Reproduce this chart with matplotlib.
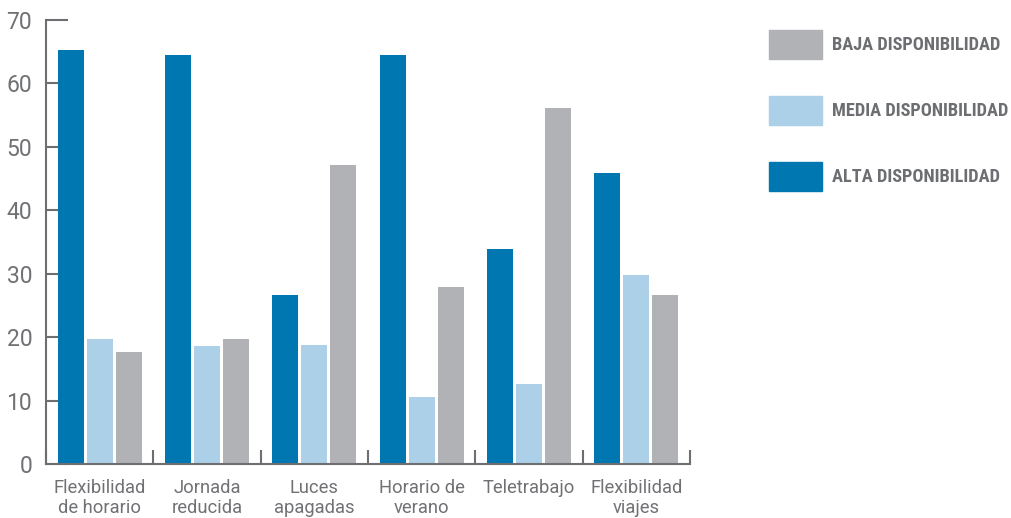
import numpy as np
import matplotlib.pyplot as plt
from matplotlib.patches import Patch
from matplotlib import font_manager

# Data
categorias = ['Flexibilidad\nde horario', 'Jornada\nreducida', 'Luces\napagadas',
              'Horario de\nverano', 'Teletrabajo', 'Flexibilidad\nviajes']
alta = [65.3, 64.5, 26.6, 64.5, 33.9, 45.9]
media = [19.7, 18.6, 18.8, 10.6, 12.6, 29.8]
baja = [17.7, 19.7, 47.1, 27.9, 56.1, 26.6]
series_labels = ['BAJA DISPONIBILIDAD', 'MEDIA DISPONIBILIDAD', 'ALTA DISPONIBILIDAD']
yticks = [0, 10, 20, 30, 40, 50, 60, 70]

c_alta = '#0077b0'
c_media = '#acd0e7'
c_baja = '#b1b2b6'
c_text = '#707174'

names = {f.name for f in font_manager.fontManager.ttflist}
text_font = 'Roboto' if 'Roboto' in names else 'DejaVu Sans'
legend_font = 'Roboto'
legend_size = 12
for cand in ['Roboto Condensed', 'Liberation Sans Narrow', 'DejaVu Sans Condensed',
             'Open Sans Condensed']:
    if cand in names:
        legend_font = cand
        legend_size = 13.2
        break


def create_plot():
    fig = plt.figure(figsize=(10.12, 5.18), dpi=100)
    ax = fig.add_axes([0.0455, 0.1042, 0.6364, 0.8572])

    x = np.arange(len(categorias)) + 0.5
    w = 0.243
    step = 0.27
    ax.bar(x - step, alta, w, color=c_alta, zorder=2)
    ax.bar(x, media, w, color=c_media, zorder=2)
    ax.bar(x + step, baja, w, color=c_baja, zorder=2)

    ax.set_xlim(0, len(categorias))
    ax.set_ylim(0, 70)
    ax.set_axisbelow(True)

    # spines
    for s in ['top', 'right']:
        ax.spines[s].set_visible(False)
    for s in ['left', 'bottom']:
        ax.spines[s].set_color('#6d6e71')
        ax.spines[s].set_linewidth(1.5)

    # y ticks pointing inward
    ax.set_yticks(yticks)
    ax.set_yticklabels([str(v) for v in yticks], fontsize=16.5, color=c_text,
                       family=text_font)
    ax.tick_params(axis='y', direction='in', length=16, width=1.5,
                   color='#6d6e71', pad=10)

    # x ticks between groups, pointing upward
    ax.set_xticks(np.arange(len(categorias) + 1))
    ax.set_xticklabels([])
    ax.tick_params(axis='x', direction='in', length=10, width=1.5,
                   color='#6d6e71')
    ax.set_xticks(x, minor=True)
    ax.set_xticklabels(categorias, minor=True, fontsize=13.2, color=c_text,
                       family=text_font, linespacing=1.1, va='top')
    ax.tick_params(axis='x', which='minor', length=0, pad=11)

    fs = legend_size * 100 / 72
    handles = [Patch(color=c_baja), Patch(color=c_media), Patch(color=c_alta)]
    leg = fig.legend(handles, series_labels, loc='upper left',
                     bbox_to_anchor=(0.760, 0.942), frameon=False,
                     borderpad=0, borderaxespad=0,
                     handlelength=53 / fs, handleheight=30 / (0.785 * fs),
                     labelspacing=36.5 / fs, handletextpad=10 / fs,
                     prop={'family': legend_font, 'weight': 'bold',
                           'size': legend_size})
    for t in leg.get_texts():
        t.set_color('#6d6e71')

    fig.savefig('out.png', dpi=100)


create_plot()
